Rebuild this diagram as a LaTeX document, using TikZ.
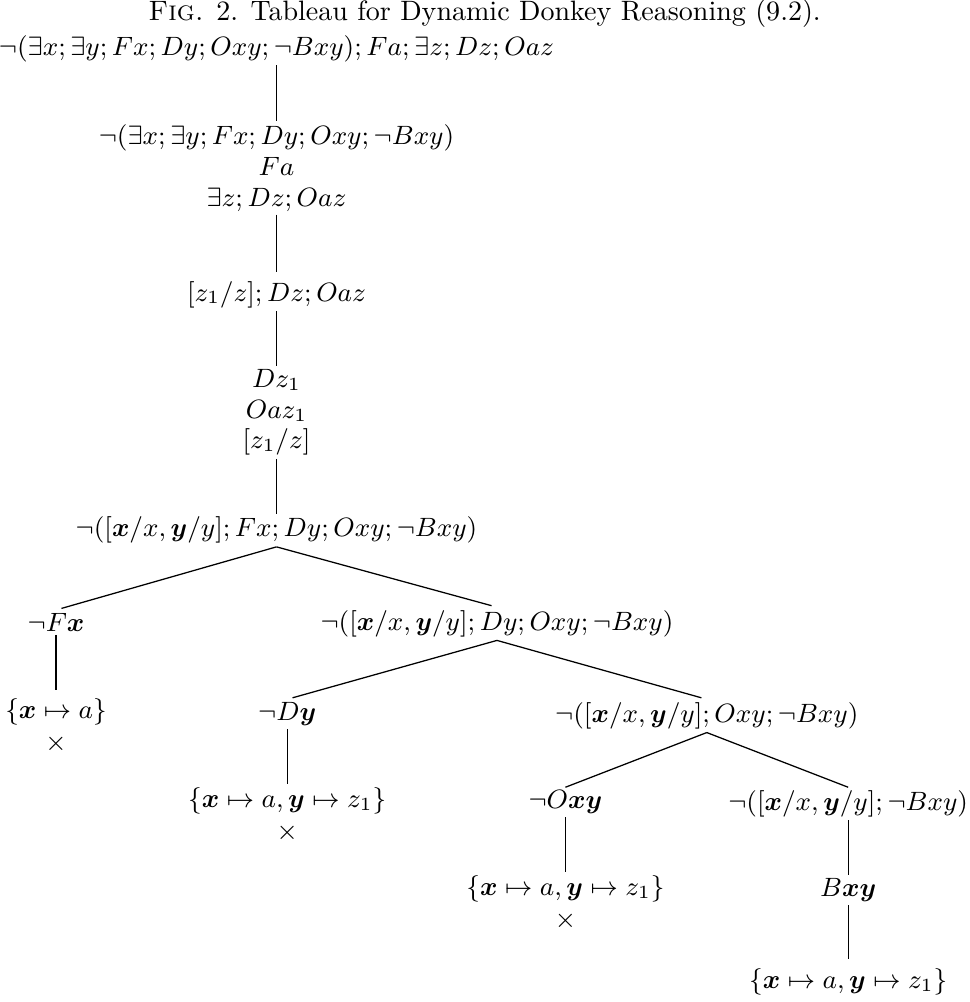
\RequirePackage{fix-cm}
\documentclass[tikz,border=0pt]{standalone}
\usepackage{amsmath,amssymb}
\usetikzlibrary{positioning}
\newcommand{\bx}{\boldsymbol{x}}
\newcommand{\by}{\boldsymbol{y}}

\begin{document}
\begin{tikzpicture}[
 x=0.3565pt,y=-0.3565pt,
 node distance=19.5pt,
 term/.style={inner sep=1pt,align=center,font=\fontsize{9.45}{11}\selectfont},
 edge/.style={draw=black,line width=0.45pt},
 gap/.style={edge,shorten >=2pt}
]
\useasboundingbox (0,0) rectangle (969,1002);
\node[term] (root) at (276.5,48.5) {$\neg(\exists x;\exists y;Fx;Dy;Oxy;\neg Bxy);Fa;\exists z;Dz;Oaz$};
\node[above=0.5pt of root,xshift=74.2pt,inner sep=1pt] (cap) {\textsc{Fig.} 2. Tableau for Dynamic Donkey Reasoning (9.2).};
\node[term,below=20pt of root] (s1) {$\neg(\exists x;\exists y;Fx;Dy;Oxy;\neg Bxy)$\\$Fa$\\$\exists z;Dz;Oaz$};
\node[term,below=22.5pt of s1] (s2) {$[z_1/z];Dz;Oaz$};
\node[term,below=of s2] (s3) {$Dz_1$\\$Oaz_1$\\$[z_1/z]$};
\node[term,below=of s3] (s4) {$\neg([\bx/x,\by/y];Fx;Dy;Oxy;\neg Bxy)$};
\node[term,below=22.5pt of s4,xshift=-78.6pt] (l1) {$\neg F\bx$};
\node[term,below=21.5pt of l1] (l1a) {$\{\bx\mapsto a\}$\\[0.4pt]$\times$};
\node[term,below=21.5pt of s4,xshift=78.6pt] (r1) {$\neg([\bx/x,\by/y];Dy;Oxy;\neg Bxy)$};
\node[term,below=21pt of r1,xshift=-74.8pt] (l2) {$\neg D\by$};
\node[term,below=of l2] (l2a) {$\{\bx\mapsto a,\by\mapsto z_1\}$\\[0.4pt]$\times$};
\node[term,below=21pt of r1,xshift=74.8pt] (r2) {$\neg([\bx/x,\by/y];Oxy;\neg Bxy)$};
\node[term,below=of r2,xshift=-50.4pt] (l3) {$\neg O\bx\by$};
\node[term,below=of l3] (l3a) {$\{\bx\mapsto a,\by\mapsto z_1\}$\\[0.4pt]$\times$};
\node[term,below=of r2,xshift=50.4pt] (r3) {$\neg([\bx/x,\by/y];\neg Bxy)$};
\node[term,below=of r3] (r3a) {$B\bx\by$};
\node[term,below=21.3pt of r3a] (r3b) {$\{\bx\mapsto a,\by\mapsto z_1\}$};
\draw[edge] (root)--(s1);
\draw[gap] (s1)--(s2);
\draw[edge] (s2)--(s3);
\draw[edge] (s3)--(s4);
\draw[gap] (s4.south)--(l1.north);
\draw[gap] (s4.south)--(r1.north);
\draw[gap] (l1)--(l1a);
\draw[gap] (r1.south)--(l2.north);
\draw[gap] (r1.south)--(r2.north);
\draw[edge] (l2)--(l2a);
\draw[edge] (r2.south)--(l3.north);
\draw[edge] (r2.south)--(r3.north);
\draw[edge] (l3)--(l3a);
\draw[edge] (r3)--(r3a);
\draw[gap] (r3a)--(r3b);
\end{tikzpicture}
\end{document}
